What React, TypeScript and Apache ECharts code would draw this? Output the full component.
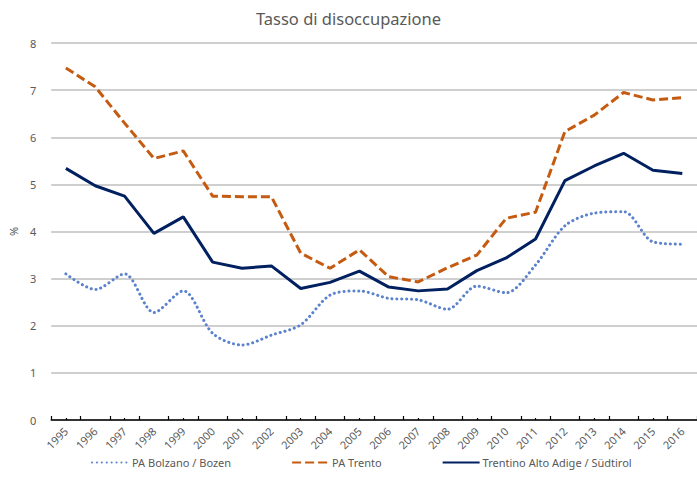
import React, { useEffect, useRef } from "react";
import * as echarts from "echarts";

const years = ["1995","1996","1997","1998","1999","2000","2001","2002","2003","2004","2005","2006","2007","2008","2009","2010","2011","2012","2013","2014","2015","2016"];
const bolzano = [3.10, 2.77, 3.10, 2.28, 2.74, 1.84, 1.59, 1.80, 2.02, 2.65, 2.74, 2.58, 2.55, 2.35, 2.84, 2.70, 3.29, 4.12, 4.39, 4.42, 3.78, 3.73];
const trento = [7.47, 7.07, 6.30, 5.55, 5.71, 4.75, 4.74, 4.74, 3.54, 3.22, 3.61, 3.04, 2.93, 3.23, 3.50, 4.28, 4.41, 6.12, 6.47, 6.95, 6.79, 6.84];
const trentino = [5.34, 4.97, 4.75, 3.96, 4.31, 3.35, 3.22, 3.27, 2.79, 2.92, 3.16, 2.82, 2.74, 2.78, 3.17, 3.44, 3.84, 5.08, 5.39, 5.66, 5.30, 5.23];
const seriesNames = ["PA Bolzano / Bozen", "PA Trento", "Trentino Alto Adige / Südtirol"];

const FONT = "Noto Sans";
const TXT = "#595959";

export default function App() {
  const ref = useRef<HTMLDivElement>(null);
  useEffect(() => {
    if (!ref.current) return;
    const chart = echarts.init(ref.current, null, { renderer: "svg" });
    chart.setOption({
      animation: false,
      textStyle: { fontFamily: FONT },
      title: {
        text: "Tasso di disoccupazione",
        left: "center",
        top: 5,
        textStyle: { fontFamily: FONT, fontSize: 16.5, fontWeight: "normal", color: TXT },
      },
      legend: {
        data: seriesNames,
        left: 86,
        top: 452,
        itemWidth: 37,
        itemHeight: 14,
        itemGap: 60,
        itemStyle: { opacity: 0 },
        textStyle: { fontFamily: FONT, fontSize: 11, color: TXT, padding: [0, 0, 0, -2] },
      },
      grid: { left: 43, right: 0, top: 43, bottom: 75, containLabel: false },
      xAxis: [
        {
          type: "category",
          data: years,
          boundaryGap: true,
          axisLine: { lineStyle: { color: "#000000", width: 1.5 } },
          axisTick: { show: true, inside: true, length: 4, alignWithLabel: false, lineStyle: { color: "#000000", width: 1.2 } },
          axisLabel: { rotate: 45, fontSize: 11, color: TXT, fontFamily: FONT, margin: 9, interval: 0 },
        },
        {
          type: "category",
          data: years,
          position: "bottom",
          boundaryGap: true,
          axisLine: { show: false },
          axisTick: { show: true, inside: true, length: 2, alignWithLabel: true, lineStyle: { color: "#000000", width: 1.2 } },
          axisLabel: { show: false },
          splitLine: { show: false },
        },
      ],
      yAxis: {
        type: "value",
        min: 0,
        max: 8,
        interval: 1,
        name: "%",
        nameLocation: "middle",
        nameGap: 30,
        nameRotate: 90,
        nameTextStyle: { fontFamily: FONT, fontSize: 11, color: TXT },
        axisLine: { show: false },
        axisTick: { show: false },
        axisLabel: { fontSize: 11, color: TXT, fontFamily: FONT, margin: 15 },
        splitLine: { lineStyle: { color: "#BFBFBF", width: 1.5 } },
      },
      series: [
        {
          name: seriesNames[0],
          type: "line",
          data: bolzano,
          symbol: "none",
          smooth: 0.3,
          lineStyle: { color: "#5B82CC", width: 3, type: [0.1, 4.8], cap: "round" },
          itemStyle: { color: "#5B82CC" },
        },
        {
          name: seriesNames[1],
          type: "line",
          data: trento,
          symbol: "none",
          lineStyle: { color: "#C55A11", width: 3, type: [9, 4] },
          itemStyle: { color: "#C55A11" },
        },
        {
          name: seriesNames[2],
          type: "line",
          data: trentino,
          symbol: "none",
          lineStyle: { color: "#002060", width: 3 },
          itemStyle: { color: "#002060" },
        },
      ],
    });
    return () => chart.dispose();
  }, []);
  return <div ref={ref} style={{ position: "absolute", left: 0, top: 0, width: 697, height: 495 }} />;
}
